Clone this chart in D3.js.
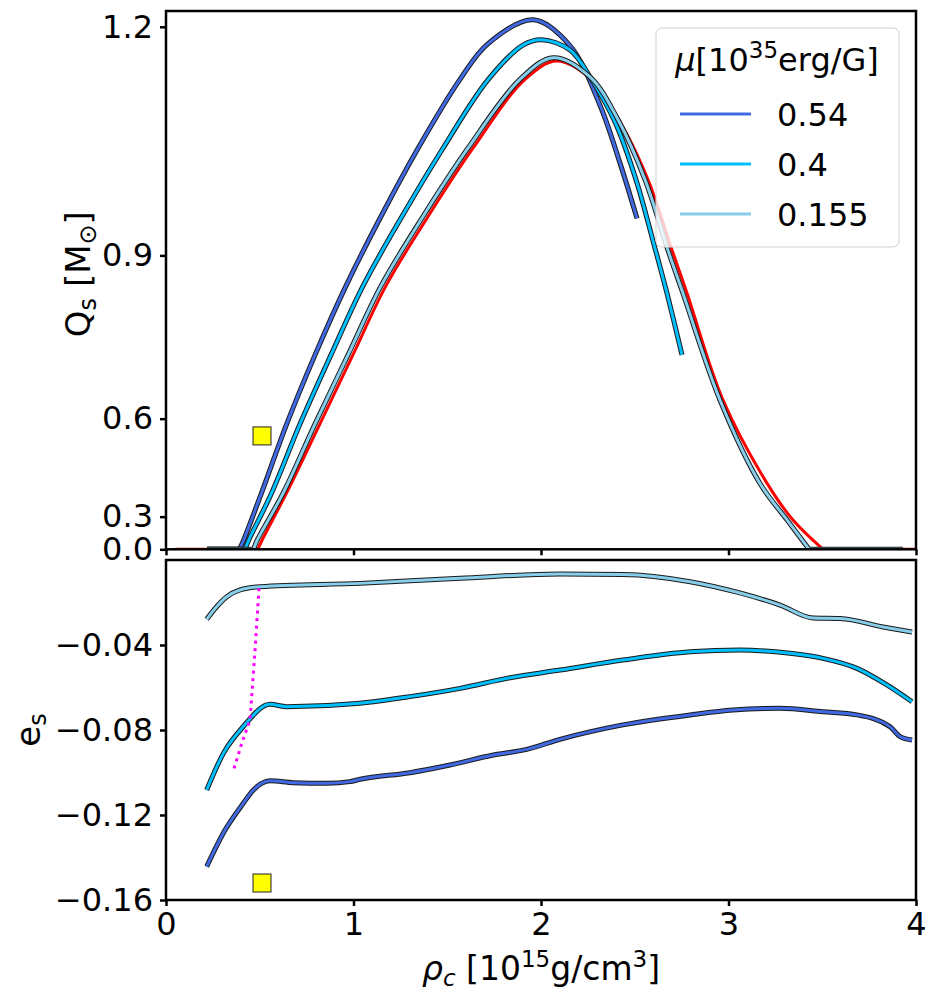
<!DOCTYPE html>
<html>
<head>
<meta charset="utf-8">
<script src="https://cdn.jsdelivr.net/npm/d3@7"></script>
<style>
  body { margin: 0; background: #fff; }
  text { font-family: "DejaVu Sans", sans-serif; }
</style>
</head>
<body>
<div id="chart"></div>
<script>

// Data
// ===========================

const xTicks = [0, 1, 2, 3, 4];
const qTicks = [0, 0.3, 0.6, 0.9, 1.2];
const eTicks = [-0.04, -0.08, -0.12, -0.16];

const muLabels = ["0.54", "0.4", "0.155"];
const muColors = ["#4169e1", "#00bfff", "#87ceeb"];

// top panel: Qs [Msun] vs rho_c
const qsRed = [[0.05,0],[0.49,0],[0.510,0.151],[0.644,0.395],[0.821,0.588],[0.997,0.732],[1.173,0.852],
  [1.396,0.957],[1.639,1.052],[1.915,1.138],[2.084,1.160],[2.272,1.137],[2.432,1.081],[2.571,1.009],
  [2.699,0.908],[2.779,0.840],[2.971,0.641],[3.205,0.427],[3.344,0.284],[3.504,0],[4.0,0]];

const qs054 = [[0.219,0],[0.392,0],[0.412,0.151],[0.510,0.395],[0.644,0.588],[0.795,0.732],[0.960,0.852],
  [1.145,0.957],[1.346,1.052],[1.568,1.138],[1.715,1.180],[1.959,1.208],[2.155,1.178],[2.315,1.106],
  [2.421,1.032],[2.512,0.955]];

const qs040 = [[0.219,0],[0.421,0],[0.439,0.151],[0.564,0.395],[0.715,0.588],[0.880,0.732],[1.051,0.852],
  [1.257,0.957],[1.479,1.052],[1.719,1.138],[1.906,1.179],[2.004,1.185],[2.155,1.173],[2.272,1.137],
  [2.395,1.085],[2.507,1.009],[2.603,0.916],[2.672,0.840],[2.752,0.732]];

const qs0155 = [[0.219,0],[0.468,0],[0.484,0.151],[0.626,0.395],[0.795,0.588],[0.971,0.732],[1.147,0.852],
  [1.369,0.957],[1.612,1.052],[1.888,1.138],[2.066,1.164],[2.261,1.141],[2.411,1.088],[2.555,1.009],
  [2.677,0.908],[2.757,0.840],[2.955,0.641],[3.168,0.426],[3.317,0.279],[3.43,0],[3.93,0]];

// bottom panel: e_s vs rho_c
const es054 = [[0.217,-0.1443],[0.315,-0.1271],[0.412,-0.1145],[0.466,-0.1082],[0.510,-0.1051],[0.555,-0.1039],
  [0.679,-0.1048],[0.857,-0.1051],[0.981,-0.1043],[1.035,-0.1032],[1.301,-0.1001],[1.515,-0.0965],
  [1.746,-0.0918],[1.924,-0.0891],[2.101,-0.0844],[2.437,-0.0776],[2.795,-0.0729],[3.024,-0.0706],
  [3.275,-0.0698],[3.504,-0.0714],[3.685,-0.0729],[3.861,-0.0784],[3.915,-0.0831],[3.979,-0.0847]];

const es040 = [[0.217,-0.1082],[0.306,-0.0910],[0.412,-0.0784],[0.555,-0.0679],[0.644,-0.0690],[1.035,-0.0674],
  [1.301,-0.0643],[1.568,-0.0604],[1.835,-0.0554],[2.101,-0.0518],[2.437,-0.0471],[2.795,-0.0432],
  [3.061,-0.0424],[3.328,-0.0439],[3.504,-0.0463],[3.685,-0.0510],[3.845,-0.0588],[3.979,-0.0667]];

const es0155 = [[0.217,-0.0279],[0.270,-0.0220],[0.324,-0.0173],[0.395,-0.0141],[0.501,-0.0126],[1.035,-0.0110],
  [1.568,-0.0086],[2.101,-0.0066],[2.437,-0.0068],[2.795,-0.0102],[3.061,-0.0155],[3.275,-0.0212],
  [3.451,-0.0273],[3.595,-0.0275],[3.824,-0.0315],[3.979,-0.0339]];

const esOnset = [[0.496,-0.0133],[0.475,-0.0424],[0.448,-0.0753],[0.404,-0.0863],[0.359,-0.0992]];

const markerQs = [[0.512, 0.559]];
const markerEs = [[0.512, -0.152]];


// Layout
// ======

const W = 936, H = 1002;
const X0 = 166, X1 = 916;
const TOP = [11, 549.3], BOT = [560, 900];

const x = d3.scaleLinear().domain([0, 4]).range([X0, X1]);
const yQ = d3.scalePow().exponent(2).domain([0, 1.218]).range([TOP[1], TOP[0]]);
const yE = d3.scaleLinear().domain([-0.16, 0]).range([BOT[1], BOT[0]]);

const svg = d3.select('#chart').append('svg')
  .attr('width', W)
  .attr('height', H)
  .attr('viewBox', `0 0 ${W} ${H}`);

const defs = svg.append('defs');
[['clipTop', TOP], ['clipBot', BOT]].forEach(([id, r]) => {
  defs.append('clipPath').attr('id', id)
    .append('rect')
      .attr('x', X0).attr('y', r[0])
      .attr('width', X1 - X0).attr('height', r[1] - r[0]);
});

function outlined(g, d, color) {
  g.append('path')
    .attr('fill', 'none').attr('stroke', '#1a1a1a').attr('stroke-width', 5)
    .attr('stroke-linejoin', 'round').attr('d', d);
  g.append('path')
    .attr('fill', 'none').attr('stroke', color).attr('stroke-width', 3)
    .attr('stroke-linejoin', 'round').attr('d', d);
}

function styleAxis(g) {
  g.select('.domain').remove();
  g.selectAll('.tick line').attr('stroke', '#000').attr('stroke-width', 2.5);
  g.selectAll('.tick text')
    .attr('font-family', '"DejaVu Sans", sans-serif')
    .attr('font-size', 32)
    .attr('fill', '#000');
}


// Top panel
// ---------

const flatQ = d3.line().x(d => x(d[0])).y(d => yQ(d[1]));
const bendQ = d3.line().x(d => x(d[0])).y(d => yQ(d[1])).curve(d3.curveCatmullRom.alpha(0.5));

// zero stretches straight, the hump as a smooth curve
function qsPath(s) {
  const i = s.findIndex(d => d[1] > 0);
  let j = s.length - 1;
  while (s[j][1] <= 0) j--;
  const parts = [];
  if (i > 0) parts.push(flatQ(s.slice(0, i)));
  parts.push(bendQ(s.slice(Math.max(i - 1, 0), Math.min(j + 2, s.length))));
  if (j + 1 < s.length - 1) parts.push(flatQ(s.slice(j + 1)));
  return parts.join('');
}

const gTop = svg.append('g').attr('clip-path', 'url(#clipTop)');

gTop.append('path')
  .attr('fill', 'none').attr('stroke', 'red').attr('stroke-width', 3)
  .attr('d', qsPath(qsRed));

[qs054, qs040, qs0155].forEach((s, i) => outlined(gTop, qsPath(s), muColors[i]));

gTop.selectAll('rect.mk').data(markerQs).enter()
  .append('rect')
    .attr('x', d => x(d[0]) - 9).attr('y', d => yQ(d[1]) - 9)
    .attr('width', 18).attr('height', 18)
    .attr('fill', 'yellow').attr('stroke', '#222').attr('stroke-width', 1);

svg.append('g')
  .attr('transform', `translate(${X0},0)`)
  .call(d3.axisLeft(yQ).tickValues(qTicks).tickFormat(d3.format('.1f')).tickSize(6).tickPadding(7))
  .call(styleAxis);

svg.append('g')
  .attr('transform', `translate(0,${TOP[1]})`)
  .call(d3.axisBottom(x).tickValues(xTicks).tickFormat('').tickSize(6))
  .call(styleAxis);

svg.append('rect')
  .attr('x', X0).attr('y', TOP[0])
  .attr('width', X1 - X0).attr('height', TOP[1] - TOP[0])
  .attr('fill', 'none').attr('stroke', '#000').attr('stroke-width', 2.5);

// legend
const leg = svg.append('g');
leg.append('rect')
  .attr('x', 656).attr('y', 28).attr('width', 243).attr('height', 219)
  .attr('rx', 6).attr('fill', 'white').attr('fill-opacity', 0.8)
  .attr('stroke', '#d0d0d0').attr('stroke-width', 1);

const title = leg.append('text')
  .attr('x', 777).attr('y', 71).attr('text-anchor', 'middle').attr('font-size', 32);
title.append('tspan').attr('font-style', 'italic').text('μ');
title.append('tspan').text('[10');
title.append('tspan').attr('font-size', 23).attr('dy', -13).text('35');
title.append('tspan').attr('dy', 13).text('erg/G]');

muLabels.forEach((lab, i) => {
  const yy = 114 + 50 * i;
  leg.append('line')
    .attr('x1', 680).attr('x2', 751).attr('y1', yy).attr('y2', yy)
    .attr('stroke', muColors[i]).attr('stroke-width', 3);
  leg.append('text')
    .attr('x', 777).attr('y', yy + 12).attr('font-size', 32).text(lab);
});

// y label
const qLab = svg.append('text')
  .attr('transform', `translate(90,${(TOP[0] + TOP[1]) / 2 - 6}) rotate(-90)`)
  .attr('text-anchor', 'middle').attr('font-size', 34);
qLab.append('tspan').text('Q');
qLab.append('tspan').attr('font-size', 24).attr('dy', 6).text('s');
qLab.append('tspan').attr('dy', -6).text(' [M');
qLab.append('tspan').attr('font-size', 24).attr('dy', 6).text('⊙');
qLab.append('tspan').attr('dy', -6).text(']');


// Bottom panel
// ------------

const lineE = d3.line().x(d => x(d[0])).y(d => yE(d[1])).curve(d3.curveMonotoneX);
const gBot = svg.append('g').attr('clip-path', 'url(#clipBot)');

[es054, es040, es0155].forEach((s, i) => outlined(gBot, lineE(s), muColors[i]));

gBot.append('path').datum(esOnset)
  .attr('fill', 'none').attr('stroke', 'magenta').attr('stroke-width', 3)
  .attr('stroke-dasharray', '3,4.5')
  .attr('d', d3.line().x(d => x(d[0])).y(d => yE(d[1])));

gBot.selectAll('rect.mk').data(markerEs).enter()
  .append('rect')
    .attr('x', d => x(d[0]) - 9).attr('y', d => yE(d[1]) - 9)
    .attr('width', 18).attr('height', 18)
    .attr('fill', 'yellow').attr('stroke', '#222').attr('stroke-width', 1);

svg.append('g')
  .attr('transform', `translate(${X0},0)`)
  .call(d3.axisLeft(yE).tickValues(eTicks).tickFormat(d3.format('.2f')).tickSize(6).tickPadding(7))
  .call(styleAxis);

svg.append('g')
  .attr('transform', `translate(0,${BOT[1]})`)
  .call(d3.axisBottom(x).tickValues(xTicks).tickFormat(d3.format('d')).tickSize(6).tickPadding(6))
  .call(styleAxis);

svg.append('rect')
  .attr('x', X0).attr('y', BOT[0])
  .attr('width', X1 - X0).attr('height', BOT[1] - BOT[0])
  .attr('fill', 'none').attr('stroke', '#000').attr('stroke-width', 2.5);

const eLab = svg.append('text')
  .attr('transform', `translate(40,${(BOT[0] + BOT[1]) / 2}) rotate(-90)`)
  .attr('text-anchor', 'middle').attr('font-size', 34);
eLab.append('tspan').text('e');
eLab.append('tspan').attr('font-size', 24).attr('dy', 6).text('s');

const xLab = svg.append('text')
  .attr('x', (X0 + X1) / 2).attr('y', 980)
  .attr('text-anchor', 'middle').attr('font-size', 33);
xLab.append('tspan').attr('font-style', 'italic').text('ρ');
xLab.append('tspan').attr('font-style', 'italic').attr('font-size', 23).attr('dy', 6).text('c');
xLab.append('tspan').attr('dy', -6).text(' [10');
xLab.append('tspan').attr('font-size', 23).attr('dy', -13).text('15');
xLab.append('tspan').attr('dy', 13).text('g/cm');
xLab.append('tspan').attr('font-size', 23).attr('dy', -13).text('3');
xLab.append('tspan').attr('dy', 13).text(']');

</script>
</body>
</html>
